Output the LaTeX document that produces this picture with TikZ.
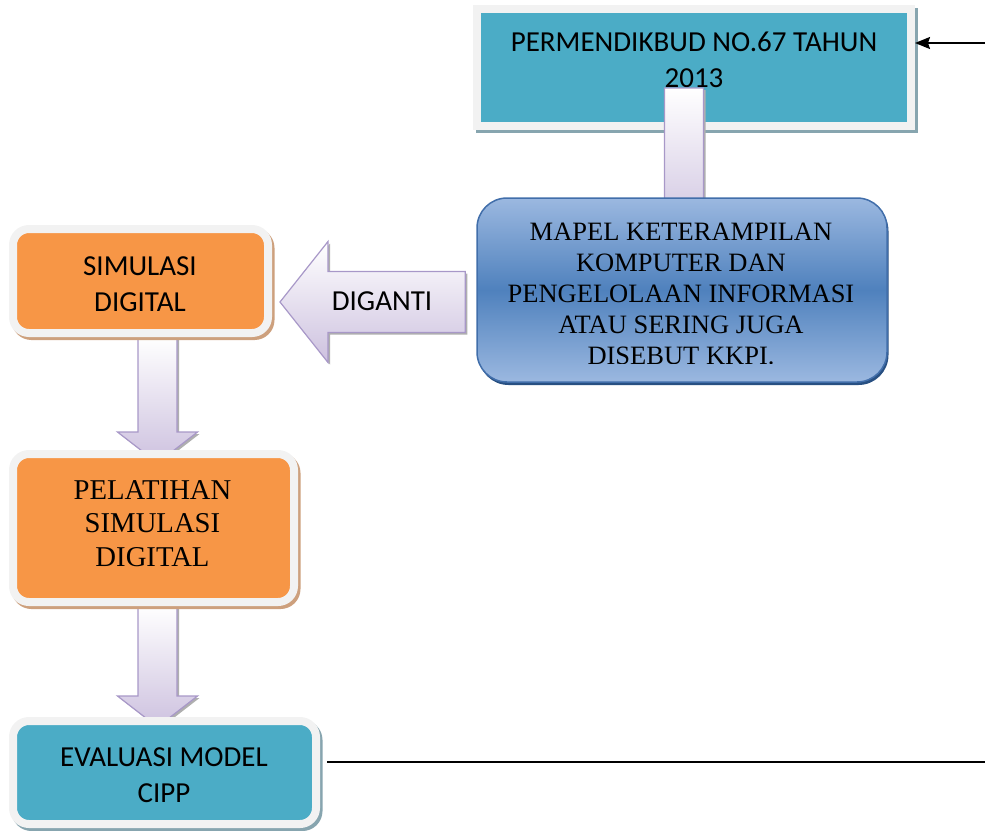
\documentclass[tikz,border=0pt]{standalone}
\usepackage{fontspec}
\newfontfamily\calib{Carlito}
\newfontfamily\tms{Liberation Serif}
\usetikzlibrary{calc,arrows.meta}
\pgfdeclarelayer{back}\pgfdeclarelayer{mid}\pgfsetlayers{back,mid,main}

\definecolor{teal1}{RGB}{75,172,198}
\definecolor{orng}{RGB}{247,150,70}
\definecolor{frm}{RGB}{242,242,242}
\definecolor{shTeal}{RGB}{135,165,175}
\definecolor{shOr}{RGB}{205,160,125}
\definecolor{blueTop}{RGB}{155,184,224}
\definecolor{blueMid}{RGB}{79,129,189}
\definecolor{blueEdge}{RGB}{65,110,170}
\definecolor{blueSh}{RGB}{40,80,130}
\definecolor{arrEdge}{RGB}{168,152,200}
\definecolor{arrBot}{RGB}{205,193,223}
\definecolor{arrSh}{RGB}{175,175,175}

\tikzset{
  framed/.style 2 args={rectangle, draw=frm, line width=8pt, fill=#1, inner sep=0pt,
    preaction={draw=#2, fill=#2, transform canvas={shift={(2.5pt,-3pt)}}}},
  sanstxt/.style={font=\calib\fontsize{29}{36}\selectfont, align=center, inner sep=0pt},
  sertxt/.style={font=\tms\fontsize{28.7}{33.5}\selectfont, align=center, inner sep=0pt},
  maptxtstyle/.style={font=\tms\fontsize{26.5}{31}\selectfont, align=center, inner sep=0pt},
  blk/.style={draw=arrEdge, line width=1.2pt, top color=white, bottom color=arrBot,
    preaction={fill=arrSh, transform canvas={shift={(2pt,-2pt)}}}},
  blkedge/.style={line width=1.7pt}
}

\newcommand\blkdown[2]{%
  \path[blk] let \p1=(#1), \p2=(#2) in
  (\x1-19.5pt,\y1) -- (\x1-19.5pt,\y2+31pt) -- (\x1-40pt,\y2+31pt) -- (\x1,\y2)
  -- (\x1+40pt,\y2+31pt) -- (\x1+19.5pt,\y2+31pt) -- (\x1+19.5pt,\y1) -- cycle;}
\newcommand\blkleft[2]{%
  \path[blk] let \p1=(#1), \p2=(#2) in
  (\x1,\y1) -- (\x1+48pt,\y1+60.5pt) -- (\x1+48pt,\y1+30.5pt) -- (\x2,\y1+30.5pt)
  -- (\x2,\y1-30.5pt) -- (\x1+48pt,\y1-30.5pt) -- (\x1+48pt,\y1-60.5pt) -- cycle;}

\begin{document}
\begin{tikzpicture}[x=1pt, y=-1pt]
\useasboundingbox (0,0) rectangle (985,830);

\begin{pgfonlayer}{back}
  \node[framed={teal1}{shTeal}, minimum width=434pt, minimum height=117pt] (perm) at (694,67.5) {};
  \node[sanstxt] (permtxt) at (694,59.5) {PERMENDIKBUD NO.67 TAHUN\\2013};
\end{pgfonlayer}

% boxes
\node[framed={orng}{shOr}, rounded corners=16pt, minimum width=255pt, minimum height=104pt] (sim) at (140.5,281) {};
\node[sanstxt] (simtxt) at (140,284.5) {SIMULASI\\DIGITAL};

\node[framed={orng}{shOr}, rounded corners=16pt, minimum width=281pt, minimum height=148pt] (pel) at (153.5,528) {};
\node[sertxt] (peltxt) at (152.5,523.5) {PELATIHAN\\SIMULASI\\DIGITAL};

\node[framed={teal1}{shTeal}, rounded corners=16pt, minimum width=303pt, minimum height=103pt] (eval) at (164.5,772.5) {};
\node[sanstxt] (evaltxt) at (164,775) {EVALUASI MODEL\\CIPP};

\node[rectangle, rounded corners=30pt, draw=blueEdge, line width=1.5pt,
      top color=blueTop, bottom color=blueTop, middle color=blueMid,
      preaction={fill=blueSh, transform canvas={shift={(1.5pt,-3pt)}}},
      minimum width=410pt, minimum height=184pt] (mapel) at (682,290) {};
\begin{scope}
  \clip ($(mapel.north west)+(0,5)$) rectangle ($(mapel.east)+(0,73.2)$);
  \node[maptxtstyle] (maptxt) at (681,293.5) {MAPEL KETERAMPILAN\\KOMPUTER DAN\\PENGELOLAAN INFORMASI\\ATAU SERING JUGA\\DISEBUT KKPI.};
\end{scope}

% block arrows
\coordinate (a0top) at ($(perm.south)+(-10,-42)$);
\coordinate (a0tip) at ($(mapel.north)+(2,40)$);
\coordinate (a1top) at ($(sim.south)+(17,0)$);
\coordinate (a1tip) at ($(pel.north)+(4,13)$);
\coordinate (a2top) at ($(pel.south)+(4,0)$);
\coordinate (a2tip) at ($(eval.north)+(-7,10)$);
\coordinate (dtip) at ($(sim.east)+(8,21)$);
\coordinate (dend) at ($(mapel.west)+(-11,0)$);
\begin{pgfonlayer}{mid}
  \blkdown{a0top}{a0tip}
  \blkdown{a1top}{a1tip}
  \blkdown{a2top}{a2tip}
  \blkleft{dtip}{dend}
\end{pgfonlayer}
\node[sanstxt] (digtxt) at (382,301.5) {DIGANTI};

% plain connectors
\coordinate (rin) at (985,43);
\draw[blkedge, -{Stealth[length=15pt,width=12pt,inset=2pt]}] (rin) -- (perm.east |- rin);
\coordinate (rout) at (985,762);
\draw[blkedge] ($(eval.east |- rout)+(7,0)$) -- (rout);
\end{tikzpicture}
\end{document}
